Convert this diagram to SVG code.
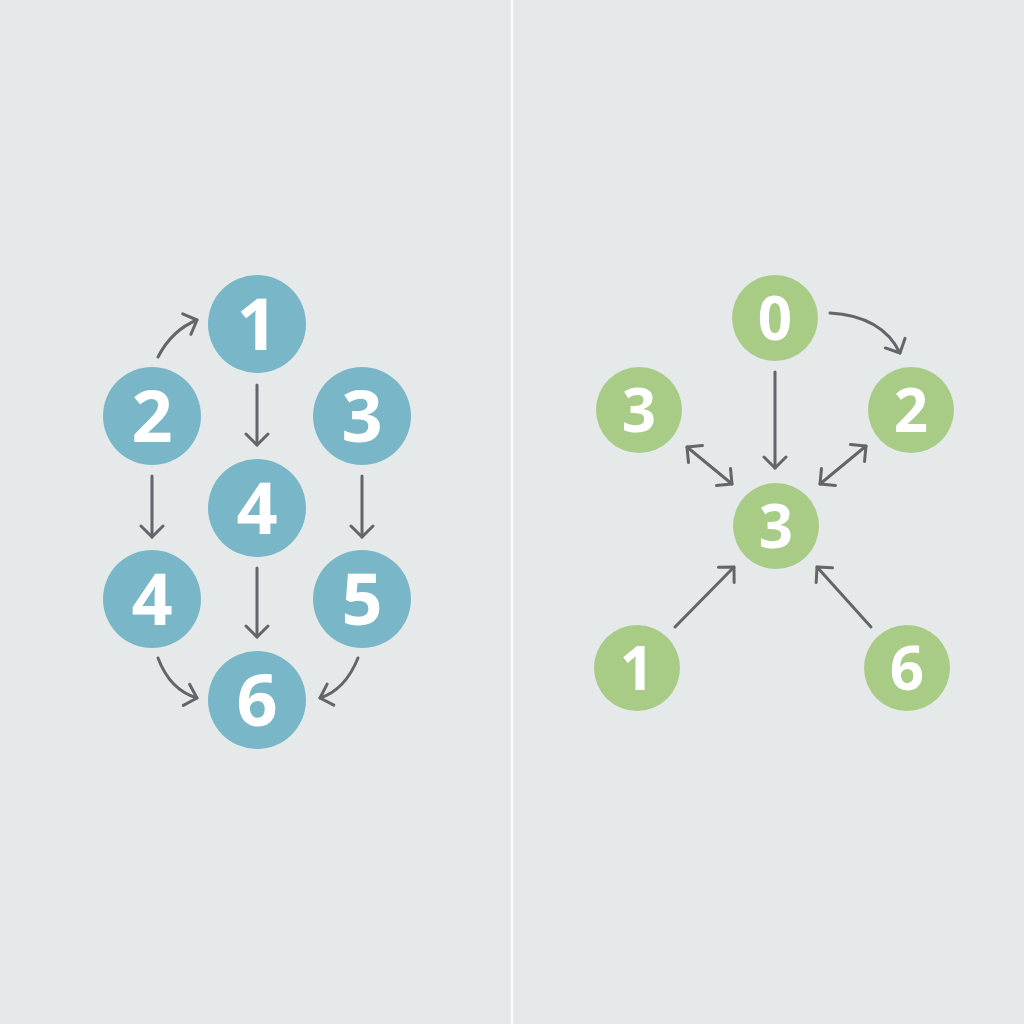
<svg xmlns="http://www.w3.org/2000/svg" width="1024" height="1024" viewBox="0 0 1024 1024">
  <defs>
    <style>
      .blue { fill: #79b7c8; }
      .green { fill: #a8cc85; }
      .lbl { fill: #ffffff; font-family: "Open Sans", "DejaVu Sans", sans-serif; font-weight: bold; text-anchor: middle; }
      .big { font-size: 72px; }
      .small { font-size: 60px; }
      .edge { fill: none; stroke: #62666a; stroke-width: 3; stroke-linecap: round; }
    </style>
    <marker id="ah" viewBox="-13 -13 15 26" markerWidth="15" markerHeight="26" refX="0" refY="0" markerUnits="userSpaceOnUse" orient="auto-start-reverse">
      <path d="M-11,-11 L0,0 L-11,11" fill="none" stroke="#62666a" stroke-width="3" stroke-linecap="round" stroke-linejoin="round"/>
    </marker>
  </defs>
  <rect width="1024" height="1024" fill="#e5e9ea"/>
  <line x1="512" y1="0" x2="512" y2="1024" stroke="#ffffff" stroke-width="2"/>

  <g id="connectors">
    <path class="edge" d="M158,357 Q172,330 197,320" marker-end="url(#ah)"/>
    <line class="edge" x1="257" y1="385" x2="257" y2="445" marker-end="url(#ah)"/>
    <line class="edge" x1="152" y1="476" x2="152" y2="537" marker-end="url(#ah)"/>
    <line class="edge" x1="362" y1="476" x2="362" y2="537" marker-end="url(#ah)"/>
    <line class="edge" x1="257" y1="568" x2="257" y2="637" marker-end="url(#ah)"/>
    <path class="edge" d="M158,658 Q170,690 197,698" marker-end="url(#ah)"/>
    <path class="edge" d="M358,658 Q345,690 320,698" marker-end="url(#ah)"/>

    <path class="edge" d="M830,313 Q882,316 900,353" marker-end="url(#ah)"/>
    <line class="edge" x1="775" y1="372" x2="775" y2="468" marker-end="url(#ah)"/>
    <line class="edge" x1="687" y1="447" x2="732" y2="484" marker-start="url(#ah)" marker-end="url(#ah)"/>
    <line class="edge" x1="866" y1="446" x2="820" y2="484" marker-start="url(#ah)" marker-end="url(#ah)"/>
    <line class="edge" x1="675" y1="627" x2="734" y2="567" marker-end="url(#ah)"/>
    <line class="edge" x1="871" y1="627" x2="817" y2="567" marker-end="url(#ah)"/>
  </g>

  <g id="L1"><circle class="blue" cx="257" cy="324" r="49"/><text class="lbl big" x="257" y="350">1</text></g>
  <g id="L2"><circle class="blue" cx="152" cy="416" r="49"/><text class="lbl big" x="152" y="442">2</text></g>
  <g id="L3"><circle class="blue" cx="362" cy="416" r="49"/><text class="lbl big" x="362" y="442">3</text></g>
  <g id="L4c"><circle class="blue" cx="257" cy="508" r="49"/><text class="lbl big" x="257" y="534">4</text></g>
  <g id="L4"><circle class="blue" cx="152" cy="599" r="49"/><text class="lbl big" x="152" y="625">4</text></g>
  <g id="L5"><circle class="blue" cx="362" cy="599" r="49"/><text class="lbl big" x="362" y="625">5</text></g>
  <g id="L6"><circle class="blue" cx="257" cy="700" r="49"/><text class="lbl big" x="257" y="726">6</text></g>

  <g id="R0"><circle class="green" cx="775" cy="318" r="43"/><text class="lbl small" x="775" y="340">0</text></g>
  <g id="R3l"><circle class="green" cx="639" cy="410" r="43"/><text class="lbl small" x="639" y="432">3</text></g>
  <g id="R2"><circle class="green" cx="911" cy="410" r="43"/><text class="lbl small" x="911" y="432">2</text></g>
  <g id="R3c"><circle class="green" cx="776" cy="526" r="43"/><text class="lbl small" x="776" y="548">3</text></g>
  <g id="R1"><circle class="green" cx="637" cy="668" r="43"/><text class="lbl small" x="637" y="690">1</text></g>
  <g id="R6"><circle class="green" cx="907" cy="668" r="43"/><text class="lbl small" x="907" y="690">6</text></g>
</svg>
